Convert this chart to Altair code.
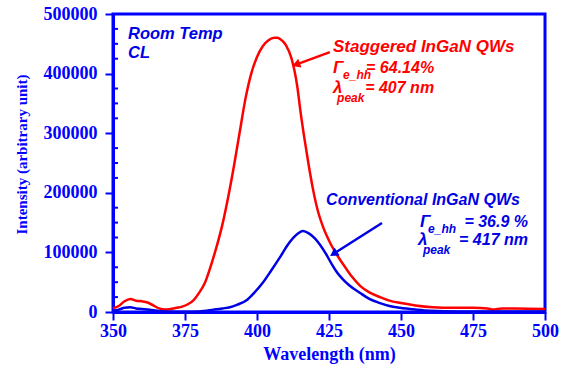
import altair as alt
import pandas as pd

# ---- data ----
red_nm = [350, 352, 354, 356, 358, 360, 362, 364, 366, 368, 370, 372, 374, 376, 378, 380, 382, 384, 386, 388,
          390, 392, 394, 396, 398, 400, 402, 404, 406, 407, 408, 410, 412, 413, 414, 415, 416.5, 418, 419.4,
          421, 423, 425.5, 428, 430.5, 433, 436, 439, 442.7, 446, 450, 455, 461, 468, 475, 480, 482, 485, 490, 500]
red_val = [6000, 10000, 18000, 22000, 19000, 18000, 16000, 11000, 6000, 4000, 5000, 7000, 9000, 13000, 20000,
           33000, 50000, 78000, 110000, 147000, 193000, 245000, 302000, 358000, 400000, 428000, 446000, 456000,
           460000, 460000, 458000, 448000, 425000, 405000, 378000, 340000, 290000, 245000, 207000, 172000, 142000,
           115000, 94000, 76000, 59000, 43000, 33000, 25000, 19000, 15000, 11000, 8000, 7000, 7000, 6000, 4000,
           6000, 6000, 5000]

blue_nm = [350, 352, 354, 356, 358, 360, 364, 368, 375, 380, 385, 388, 390.6, 393, 396.5, 399, 402, 405, 408,
           411, 414, 416, 418, 420, 422, 424, 426, 428, 430, 432, 435.8, 439, 442.7, 446, 449.6, 455, 460,
           470, 500]
blue_val = [2000, 4000, 7000, 8000, 6000, 5000, 3000, 1000, 500, 1000, 4000, 6000, 8000, 12000, 20000, 32000,
            49000, 70000, 92000, 115000, 131000, 136000, 132000, 124000, 112000, 97000, 80000, 65000, 54000,
            45000, 32000, 22000, 15000, 10000, 7000, 4000, 2000, 1000, 1000]

x_tick_values = [350, 362.5, 375, 387.5, 400, 412.5, 425, 437.5, 450, 462.5, 475, 487.5, 500]
y_major_values = [0, 100000, 200000, 300000, 400000, 500000]
y_minor_values = [25000, 50000, 75000, 125000, 150000, 175000, 225000, 250000, 275000,
                  325000, 350000, 375000, 425000, 450000, 475000]

# annotations
ann_text = ["Room Temp", "CL",
            "Staggered InGaN QWs", "Γ", "e_hh", "= 64.14%", "λ", "peak", "= 407 nm",
            "Conventional InGaN QWs", "Γ", "e_hh", "= 36.9 %", "λ", "peak", "= 417 nm"]
ann_nm = [355.2, 355.2,
          426.4, 426.4, 429.9, 461.5, 426.4, 427.8, 461.5,
          424.0, 456.6, 459.4, 494.1, 455.9, 457.6, 494.1]
ann_val = [458000, 426000,
           436000, 401000, 391000, 401000, 367000, 352000, 367000,
           179500, 142600, 132500, 142600, 112400, 97300, 112400]
ann_size = [16.5, 16.5,
            17, 17, 12, 16, 17, 12, 16,
            16, 17, 12, 16, 17, 12, 16]
ann_color = ["b", "b",
             "r", "r", "r", "r", "r", "r", "r",
             "b", "b", "b", "b", "b", "b", "b"]
ann_align = ["left", "left",
             "left", "left", "left", "right", "left", "left", "right",
             "left", "left", "left", "right", "left", "left", "right"]

# arrows (tail -> head) in data coordinates
arrow_x1 = [425.3, 443.4]
arrow_y1 = [436000, 149300]
arrow_x2 = [414.0, 427.0]
arrow_y2 = [416000, 99000]
arrow_color = ["r", "b"]

BLUE = "#0000ff"
RED = "#ff0000"
CMAP = alt.Scale(domain=["r", "b"], range=[RED, "#0000e6"])

red_df = pd.DataFrame({"nm": red_nm, "val": red_val})
blue_df = pd.DataFrame({"nm": blue_nm, "val": blue_val})
ann_df = pd.DataFrame({"nm": ann_nm, "val": ann_val, "text": ann_text,
                       "fs": ann_size, "c": ann_color, "align": ann_align})
arr_df = pd.DataFrame({"x1": arrow_x1, "y1": arrow_y1, "x2": arrow_x2, "y2": arrow_y2, "c": arrow_color})
minor_df = pd.DataFrame({"v": y_minor_values})

xscale = alt.Scale(domain=[350, 500], nice=False, zero=False)
yscale = alt.Scale(domain=[0, 500000], nice=False)

xaxis = alt.Axis(values=x_tick_values,
                 labelExpr="datum.value % 25 == 0 ? format(datum.value, 'd') : ''",
                 title="Wavelength (nm)", grid=False, tickSize=8, tickWidth=2, tickColor=BLUE,
                 domainColor=BLUE, domainWidth=3, labelColor=BLUE, labelFont="Liberation Serif",
                 labelFontWeight="bold", labelFontSize=18, labelPadding=2, labelFlush=False,
                 titleColor=BLUE, titleFont="Liberation Serif", titleFontWeight="bold",
                 titleFontSize=18, titlePadding=5)
yaxis = alt.Axis(values=y_major_values, format="d", title="Intensity (arbitrary unit)", grid=False,
                 tickSize=8, tickWidth=2, tickColor=BLUE, domainColor=BLUE, domainWidth=3,
                 labelColor=BLUE, labelFont="Liberation Serif", labelFontWeight="bold",
                 labelFontSize=18, labelPadding=8, labelFlush=False,
                 titleColor=BLUE, titleFont="Liberation Serif", titleFontWeight="bold",
                 titleFontSize=15, titleX=-92, titleY=140, titleAngle=270,
                 titleAlign="center", titleBaseline="middle")

red_line = alt.Chart(red_df).mark_line(color=RED, strokeWidth=2.5, interpolate="monotone").encode(
    x=alt.X("nm:Q", scale=xscale, axis=xaxis),
    y=alt.Y("val:Q", scale=yscale, axis=yaxis),
)
blue_line = alt.Chart(blue_df).mark_line(color="#0000e6", strokeWidth=2.5, interpolate="monotone").encode(
    x=alt.X("nm:Q", scale=xscale),
    y=alt.Y("val:Q", scale=yscale),
)

minor = alt.Chart(minor_df).mark_rule(color=BLUE, strokeWidth=2).encode(
    y=alt.Y("v:Q", scale=yscale), x=alt.value(0), x2=alt.value(5)
)

arrows = alt.Chart(arr_df).mark_rule(strokeWidth=2.5).encode(
    x=alt.X("x1:Q", scale=xscale), x2="x2:Q",
    y=alt.Y("y1:Q", scale=yscale), y2="y2:Q",
    color=alt.Color("c:N", scale=CMAP, legend=None),
)
red_head = alt.Chart(arr_df[arr_df.c == "r"]).mark_point(
    shape="triangle", filled=True, size=90, opacity=1, angle=249.6).encode(
    x=alt.X("x2:Q", scale=xscale), y=alt.Y("y2:Q", scale=yscale),
    color=alt.Color("c:N", scale=CMAP, legend=None))
blue_head = alt.Chart(arr_df[arr_df.c == "b"]).mark_point(
    shape="triangle", filled=True, size=90, opacity=1, angle=237.4).encode(
    x=alt.X("x2:Q", scale=xscale), y=alt.Y("y2:Q", scale=yscale),
    color=alt.Color("c:N", scale=CMAP, legend=None))


def text_layer(align):
    return alt.Chart(ann_df[ann_df["align"] == align]).mark_text(
        align=align, baseline="alphabetic", font="Liberation Sans",
        fontStyle="italic", fontWeight="bold").encode(
        x=alt.X("nm:Q", scale=xscale), y=alt.Y("val:Q", scale=yscale),
        text="text:N",
        size=alt.Size("fs:Q", scale=None, legend=None),
        color=alt.Color("c:N", scale=CMAP, legend=None),
    )


chart = alt.layer(red_line, blue_line, minor, arrows, red_head, blue_head,
                  text_layer("left"), text_layer("right")).properties(
    width=432, height=298,
    autosize=alt.AutoSizeParams(type="none"),
    padding={"left": 113, "top": 14, "right": 19, "bottom": 54},
    background="white",
).configure_view(stroke=BLUE, strokeWidth=3)

chart.save("out.html", embed_options={"renderer": "svg", "actions": False})
